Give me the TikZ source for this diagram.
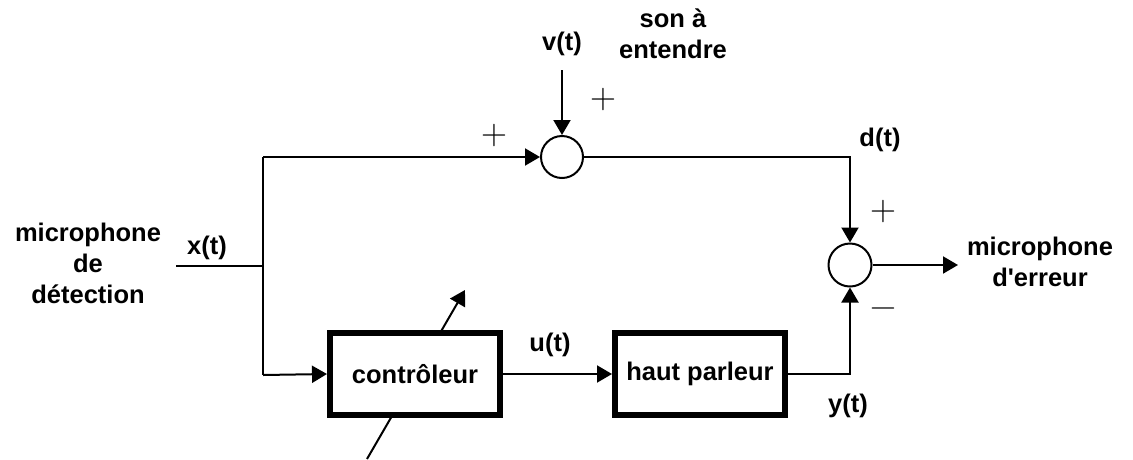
\documentclass[tikz,border=0pt]{standalone}
\usepackage{fontspec}
\setmainfont{Liberation Sans}
\newfontfamily\lmsign{Latin Modern Roman}
\usetikzlibrary{arrows.meta}
\begin{document}
\begin{tikzpicture}[x=1pt,y=-1pt,
  lbl/.style={font=\fontsize{25.5}{31}\selectfont\bfseries, inner sep=0pt, align=center},
  sgn/.style={font=\lmsign\fontsize{36}{36}\selectfont, inner sep=0pt},
  wire/.style={line width=2pt},
  arr/.style={wire, -{Triangle[length=15pt,width=17pt]}},
  sum/.style={circle, draw, line width=2pt, minimum size=42pt, inner sep=0pt},
  block/.style={draw, fill=white, line width=6pt, minimum width=170pt, minimum height=82pt, inner sep=0pt, font=\fontsize{25.5}{31}\selectfont\bfseries}]
\useasboundingbox (0,0) rectangle (1133,459);
% nodes
\node[sum] (s1) at (562,157) {};
\node[sum, minimum size=43pt] (s2) at (850,265) {};
\coordinate (vin) at (562,70);
\coordinate (xin) at (176,266);
\coordinate (br) at (263,266);
\coordinate (tl) at (263,157);
\coordinate (bl) at (263,375);
\coordinate (tr) at (850,157);
\coordinate (yr) at (850,374);
\coordinate (out) at (958,265);
\coordinate (adpA) at (367,459);
\coordinate (adpB) at (465,290);
% adaptation arrow (under the controller)
\draw[arr] (adpA) -- (adpB);
\node[block] (ctrl) at (415,374) {contrôleur};
\node[block] (hp) at (700,374) {haut parleur};
% connectors
\draw[arr] (vin) -- (s1.north);
\draw[wire] (xin) -- (br);
\draw[wire] (tl) -- (bl);
\draw[arr] (tl) -- (s1.west);
\draw[arr] (bl) -- (ctrl.west);
\draw[arr] (ctrl.east) -- (hp.west);
\draw[arr] (s1.east) -- (tr) -- (s2.north);
\draw[arr] (hp.east) -- (yr) -- (s2.south);
\draw[arr] (s2.east) -- (out);
% labels
\node[lbl] (lv) at (562,44) {v(t)};
\node[lbl] (lson) at (673,34) {son à\\entendre};
\node[lbl] (ld) at (880,140) {d(t)};
\node[lbl] (lx) at (207,248) {x(t)};
\node[lbl] (lu) at (550,345) {u(t)};
\node[lbl] (ly) at (848,406) {y(t)};
\node[lbl] (lmd) at (88,263) {microphone\\de\\détection};
\node[lbl] (lme) at (1040,262) {microphone\\d\textquotesingle erreur};
\node[sgn] (p1) at (603,100) {+};
\node[sgn] (p2) at (494,136) {+};
\node[sgn] (p3) at (883,212) {+};
\node[sgn] (m1) at (883,313) {−};
\end{tikzpicture}
\end{document}
